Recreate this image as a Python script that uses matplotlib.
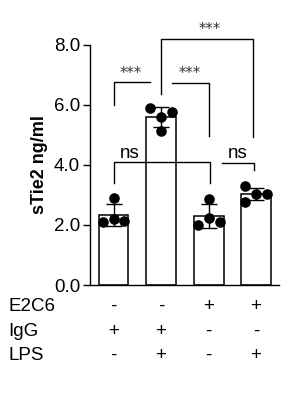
import numpy as np
import matplotlib
matplotlib.use("Agg")
import matplotlib.pyplot as plt

plt.rcParams["font.family"] = ["Liberation Sans", "DejaVu Sans"]

# data: four groups, four points each (sTie2 ng/ml)
groups = ["IgG", "IgG+LPS", "E2C6", "E2C6+LPS"]
g1 = [2.89, 2.08, 2.20, 2.14]
g2 = [5.89, 5.58, 5.76, 5.12]
g3 = [2.87, 1.98, 2.24, 2.08]
g4 = [3.28, 2.77, 3.03, 3.03]
values = [g1, g2, g3, g4]
# horizontal swarm slot of each point (-1, 0, +1)
slots = [[0, -1, 0, 1], [-1, 0, 1, 0], [0, -1, 0, 1], [-1, -1, 0, 1]]

row_names = ["E2C6", "IgG", "LPS"]
row_signs = [["-", "-", "+", "+"],
             ["+", "+", "-", "-"],
             ["-", "+", "-", "+"]]

yticks = [0, 2, 4, 6, 8]

fig = plt.figure(figsize=(3.06, 3.96), dpi=100, facecolor="white")
ax = fig.add_axes([0.294, 0.2803, 0.618, 0.6073])

x = np.arange(len(groups))
means = [np.mean(v) for v in values]
sds = [np.std(v, ddof=1) for v in values]

ax.bar(x, means, width=0.63, color="white", edgecolor="black", linewidth=1.1, zorder=1)
ax.errorbar(x, means, yerr=sds, fmt="none", ecolor="black", elinewidth=1.0,
            capsize=5.8, capthick=1.0, zorder=2)
for i, (v, s) in enumerate(zip(values, slots)):
    ax.scatter(i + 0.23 * np.array(s), v, s=58, color="black", zorder=3,
               linewidths=0, clip_on=False)

ax.set_xlim(-0.495, 3.48)
ax.set_ylim(0, 8)
ax.set_yticks(yticks)
ax.set_yticklabels([f"{t:.1f}" for t in yticks], fontsize=13.5)
ax.set_xticks([])
ax.tick_params(axis="y", length=5, width=1, pad=2)
ax.spines[["top", "right"]].set_visible(False)
ax.spines["left"].set_linewidth(1.0)
ax.spines["bottom"].set_linewidth(1.0)
ax.set_ylabel("sTie2 ng/ml", fontsize=13, fontweight="bold", labelpad=4)


def line(xs, ys):
    ax.plot(xs, ys, color="black", linewidth=1.0, clip_on=False, zorder=4)


def stars(xc, yc):
    ax.text(xc, yc, "***", ha="center", va="center", fontsize=10.5,
            color="#333333", family="DejaVu Sans")


# significance brackets
line([1.006, 1.006, 2.94, 2.94], [6.36, 8.18, 8.18, 4.92])
stars(2.03, 8.5)
line([0.017, 0.017, 0.77], [6.0, 6.74, 6.74])
stars(0.36, 7.05)
line([1.22, 2.0, 2.0], [6.71, 6.71, 4.96])
stars(1.59, 7.05)
line([0.017, 0.017, 2.03, 2.03], [3.39, 4.09, 4.09, 3.39])
ax.text(0.35, 4.38, "ns", ha="center", va="center", fontsize=13.5)
line([2.28, 2.96, 2.96], [4.06, 4.06, 3.82])
ax.text(2.6, 4.38, "ns", ha="center", va="center", fontsize=13.5)

# treatment table below the axis
row_y = [1 - 306.7 / 396, 1 - 331 / 396, 1 - 355 / 396]
for name, signs, yy in zip(row_names, row_signs, row_y):
    fig.text(8 / 306, yy, name, ha="left", va="center", fontsize=13.5)
    for i, sg in enumerate(signs):
        xf = (113.5 + 47.5 * i) / 306
        fig.text(xf, yy, sg, ha="center", va="center", fontsize=13.5)

fig.savefig("out.png", dpi=100, facecolor="white")
